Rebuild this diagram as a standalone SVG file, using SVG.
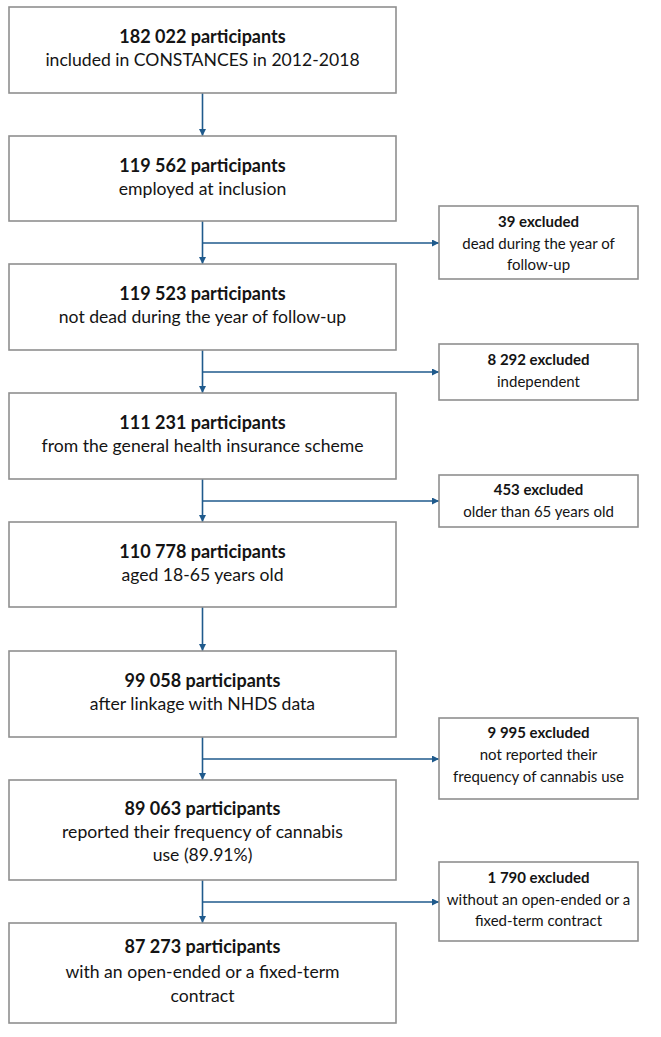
<svg xmlns="http://www.w3.org/2000/svg" width="661" height="1037" viewBox="0 0 661 1037">
<style>
  .box { fill: #ffffff; stroke: #8f8f8f; stroke-width: 1.6; }
  .t { font-family: Lato, "Liberation Sans", sans-serif; font-size: 17.6px; fill: #141414; text-anchor: middle; }
  .s { font-family: Lato, "Liberation Sans", sans-serif; font-size: 15px; fill: #141414; text-anchor: middle; }
  .t.b { font-size: 18px; }
  .b { font-weight: bold; }
  .c { stroke: #1f5a8c; stroke-width: 1.6; fill: none; }
</style>
<defs>
  <marker id="ah" viewBox="0 0 10 10" refX="10" refY="5" markerWidth="7" markerHeight="7" orient="auto" markerUnits="userSpaceOnUse">
    <path d="M0,0 L10,5 L0,10 z" fill="#1f5a8c"/>
  </marker>
</defs>
<rect width="661" height="1037" fill="#ffffff"/>

<g id="connectors">
  <line class="c" x1="202.5" y1="93" x2="202.5" y2="136" marker-end="url(#ah)"/>
  <line class="c" x1="202.5" y1="221" x2="202.5" y2="264" marker-end="url(#ah)"/>
  <line class="c" x1="202.5" y1="243" x2="439" y2="243" marker-end="url(#ah)"/>
  <line class="c" x1="202.5" y1="350" x2="202.5" y2="393" marker-end="url(#ah)"/>
  <line class="c" x1="202.5" y1="372" x2="439" y2="372" marker-end="url(#ah)"/>
  <line class="c" x1="202.5" y1="479" x2="202.5" y2="522" marker-end="url(#ah)"/>
  <line class="c" x1="202.5" y1="501" x2="439" y2="501" marker-end="url(#ah)"/>
  <line class="c" x1="202.5" y1="607" x2="202.5" y2="651" marker-end="url(#ah)"/>
  <line class="c" x1="202.5" y1="737" x2="202.5" y2="780" marker-end="url(#ah)"/>
  <line class="c" x1="202.5" y1="759" x2="439" y2="759" marker-end="url(#ah)"/>
  <line class="c" x1="202.5" y1="880" x2="202.5" y2="923" marker-end="url(#ah)"/>
  <line class="c" x1="202.5" y1="902" x2="439" y2="902" marker-end="url(#ah)"/>
</g>

<g id="n1">
  <rect class="box" x="9" y="7" width="387" height="86"/>
  <text class="t b" x="202.5" y="43">182 022 participants</text>
  <text class="t" x="202.5" y="66">included in CONSTANCES in 2012-2018</text>
</g>
<g id="n2">
  <rect class="box" x="9" y="136" width="387" height="85"/>
  <text class="t b" x="202.5" y="172">119 562 participants</text>
  <text class="t" x="202.5" y="195">employed at inclusion</text>
</g>
<g id="x1">
  <rect class="box" x="439" y="206" width="199" height="73"/>
  <text class="s b" x="538.5" y="227">39 excluded</text>
  <text class="s" x="538.5" y="249">dead during the year of</text>
  <text class="s" x="538.5" y="270">follow-up</text>
</g>
<g id="n3">
  <rect class="box" x="9" y="264" width="387" height="86"/>
  <text class="t b" x="202.5" y="300">119 523 participants</text>
  <text class="t" x="202.5" y="323">not dead during the year of follow-up</text>
</g>
<g id="x2">
  <rect class="box" x="439" y="344" width="199" height="56"/>
  <text class="s b" x="538.5" y="365">8 292 excluded</text>
  <text class="s" x="538.5" y="387">independent</text>
</g>
<g id="n4">
  <rect class="box" x="9" y="393" width="387" height="86"/>
  <text class="t b" x="202.5" y="429">111 231 participants</text>
  <text class="t" x="202.5" y="452">from the general health insurance scheme</text>
</g>
<g id="x3">
  <rect class="box" x="439" y="475" width="199" height="52"/>
  <text class="s b" x="538.5" y="495">453 excluded</text>
  <text class="s" x="538.5" y="517">older than 65 years old</text>
</g>
<g id="n5">
  <rect class="box" x="9" y="522" width="387" height="85"/>
  <text class="t b" x="202.5" y="558">110 778 participants</text>
  <text class="t" x="202.5" y="581">aged 18-65 years old</text>
</g>
<g id="n6">
  <rect class="box" x="9" y="651" width="387" height="86"/>
  <text class="t b" x="202.5" y="687">99 058 participants</text>
  <text class="t" x="202.5" y="710">after linkage with NHDS data</text>
</g>
<g id="x4">
  <rect class="box" x="439" y="718" width="199" height="81"/>
  <text class="s b" x="538.5" y="738">9 995 excluded</text>
  <text class="s" x="538.5" y="760">not reported their</text>
  <text class="s" x="538.5" y="782">frequency of cannabis use</text>
</g>
<g id="n7">
  <rect class="box" x="9" y="780" width="387" height="100"/>
  <text class="t b" x="202.5" y="815">89 063 participants</text>
  <text class="t" x="202.5" y="838">reported their frequency of cannabis</text>
  <text class="t" x="202.5" y="861">use (89.91%)</text>
</g>
<g id="x5">
  <rect class="box" x="439" y="862" width="199" height="79"/>
  <text class="s b" x="538.5" y="883">1 790 excluded</text>
  <text class="s" x="538.5" y="905">without an open-ended or a</text>
  <text class="s" x="538.5" y="926">fixed-term contract</text>
</g>
<g id="n8">
  <rect class="box" x="9" y="923" width="387" height="100"/>
  <text class="t b" x="202.5" y="953">87 273 participants</text>
  <text class="t" x="202.5" y="978">with an open-ended or a fixed-term</text>
  <text class="t" x="202.5" y="1002">contract</text>
</g>
</svg>
